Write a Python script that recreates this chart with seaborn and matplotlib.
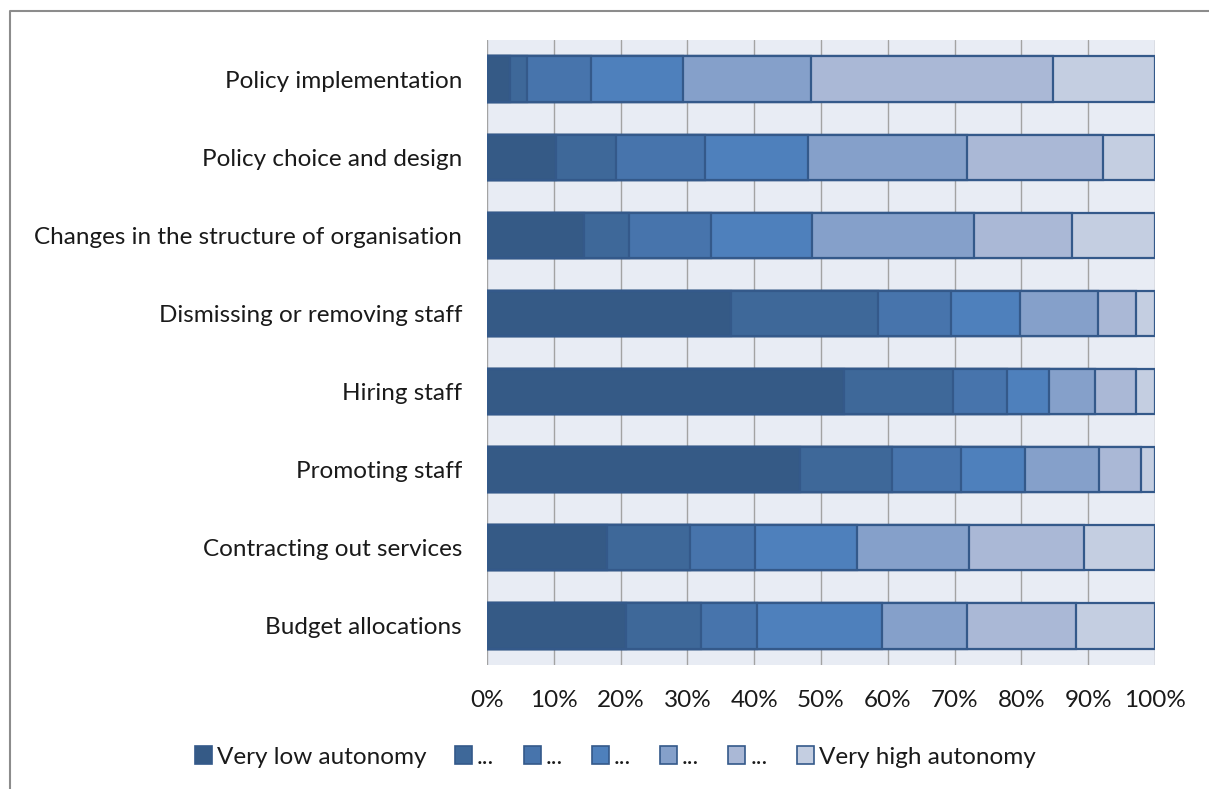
import matplotlib
matplotlib.use("Agg")
import matplotlib.pyplot as plt
from matplotlib.patches import Patch
from matplotlib.lines import Line2D
import numpy as np
import pandas as pd
import seaborn as sns

# Functions rated, top to bottom
categories = [
    "Policy implementation",
    "Policy choice and design",
    "Changes in the structure of organisation",
    "Dismissing or removing staff",
    "Hiring staff",
    "Promoting staff",
    "Contracting out services",
    "Budget allocations",
]

# Autonomy levels, lowest to highest
levels = ["Very low autonomy", "...", "...", "...", "...", "...", "Very high autonomy"]

# Share of respondents (%) per level, one list per level
very_low = [3.4, 10.4, 14.5, 36.5, 53.4, 46.9, 18.0, 20.8]
level_2 = [2.6, 8.9, 6.8, 22.0, 16.3, 13.7, 12.4, 11.3]
level_3 = [9.5, 13.3, 12.3, 11.0, 8.2, 10.4, 9.7, 8.3]
level_4 = [13.8, 15.5, 15.1, 10.3, 6.2, 9.6, 15.3, 18.8]
level_5 = [19.2, 23.8, 24.2, 11.7, 6.9, 11.0, 16.7, 12.7]
level_6 = [36.2, 20.3, 14.6, 5.6, 6.1, 6.3, 17.3, 16.2]
very_high = [15.3, 7.8, 12.5, 2.9, 2.9, 2.1, 10.6, 11.9]

series = [very_low, level_2, level_3, level_4, level_5, level_6, very_high]
colors = ["#355A86", "#3E6899", "#4774AC", "#4E80BC", "#85A0CA", "#AAB8D6", "#C4CEE1"]
edge = "#34598A"

sns.set_theme(style="white")
plt.rcParams["font.family"] = ["Lato", "DejaVu Sans"]

fig = plt.figure(figsize=(12.09, 7.89), dpi=100)
ax = fig.add_axes([487 / 1209, 1 - 665 / 789, 668 / 1209, 625 / 789])
ax.set_facecolor("#E8ECF4")

# Stacked bars: draw cumulative totals from the full bar down to the first level
values = np.array(series)
cumulative = values.cumsum(axis=0)
for k in range(len(levels) - 1, -1, -1):
    df = pd.DataFrame({"category": categories, "value": cumulative[k]})
    sns.barplot(data=df, x="value", y="category", order=categories, orient="h",
                color=colors[k], saturation=1, width=0.58,
                edgecolor=edge, linewidth=1.6, ax=ax, zorder=3)

ax.set_xlim(0, 100)
ax.set_ylim(len(categories) - 0.5, -0.5)
ax.set_xticks(np.arange(0, 101, 10))
ax.set_xticklabels([f"{t}%" for t in range(0, 101, 10)])
ax.xaxis.grid(True, color="#A3A3A3", linewidth=1.0, zorder=0)
ax.set_axisbelow(True)
ax.set_xlabel("")
ax.set_ylabel("")
for s in ax.spines.values():
    s.set_visible(False)
ax.tick_params(axis="x", length=0, pad=18, labelsize=17.5, labelcolor="#1a1a1a")
ax.tick_params(axis="y", length=0, pad=18, labelsize=17.5, labelcolor="#1a1a1a")

# Outer chart frame: left and top edges
fig.add_artist(Line2D([10 / 1209, 10 / 1209, 1.0], [0.0, 1 - 11 / 789, 1 - 11 / 789],
                      transform=fig.transFigure, color="#8C8C8C", linewidth=1.5))

handles = [Patch(facecolor=c, edgecolor=edge, linewidth=1.2) for c in colors]
fig.legend(handles, levels, loc="center", bbox_to_anchor=(615 / 1209, 1 - 757 / 789),
           ncol=7, frameon=False, fontsize=17.5, handlelength=0.7, handleheight=0.7,
           handletextpad=0.2, columnspacing=1.2, labelcolor="#1a1a1a")

fig.savefig("out.png", dpi=100)
